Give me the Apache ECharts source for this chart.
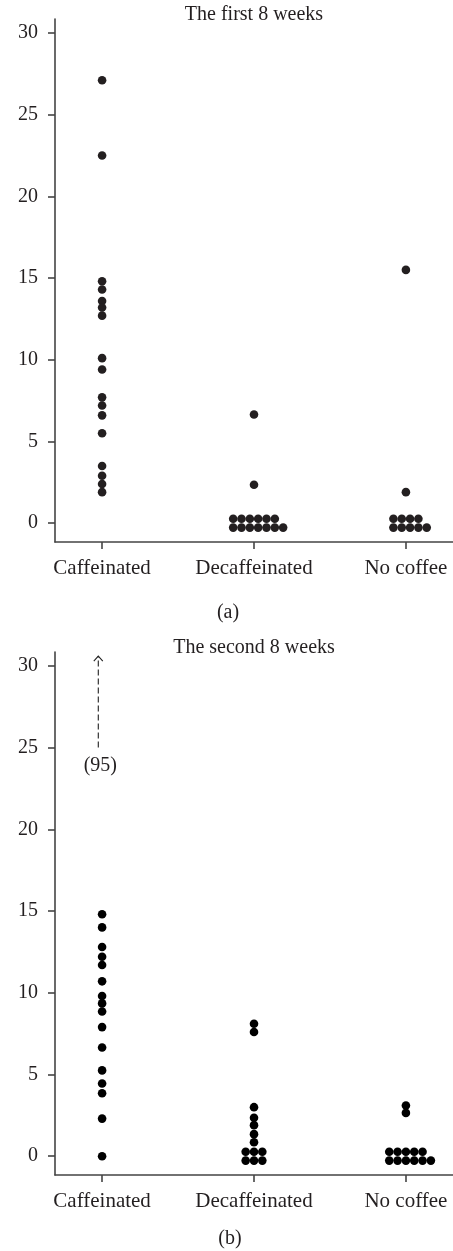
<!DOCTYPE html>
<html>
<head>
<meta charset="utf-8">
<script src="https://cdn.jsdelivr.net/npm/echarts@6/dist/echarts.min.js"></script>
<style>
  html, body { margin: 0; padding: 0; background: #fff; }
  #chart { width: 453px; height: 1251px; }
</style>
</head>
<body>
<div id="chart"></div>
<script>
// ---- data ----
const categories = ['Caffeinated', 'Decaffeinated', 'No coffee'];
const yTicks = [0, 5, 10, 15, 20, 25, 30];
const panelTitles = ['The first 8 weeks', 'The second 8 weeks'];
const captions = ['(a)', '(b)'];

const caffeinatedA = [27.1, 22.5, 14.8, 14.3, 13.6, 13.2, 12.7, 10.1, 9.4, 7.7, 7.2, 6.6, 5.5, 3.5, 2.9, 2.4, 1.9];
const decaffeinatedA = [6.65, 2.35, 0, 0, 0, 0, 0, 0, 0, 0, 0, 0, 0, 0, 0];
const noCoffeeA = [15.5, 1.9, 0, 0, 0, 0, 0, 0, 0, 0, 0];

const caffeinatedB = [95, 14.8, 14.0, 12.8, 12.2, 11.7, 10.7, 9.8, 9.35, 8.85, 7.9, 6.65, 5.25, 4.45, 3.85, 2.3, 0];
const decaffeinatedB = [8.1, 7.6, 3.0, 2.35, 1.9, 1.35, 0.85, 0, 0, 0, 0, 0, 0];
const noCoffeeB = [3.1, 2.65, 0, 0, 0, 0, 0, 0, 0, 0, 0, 0, 0];

// ---- layout constants ----
const Y_MIN = -1.15, Y_MAX = 30.85;
const X_MIN = -0.31, X_MAX = 2.31;
const STEP_X = 0.0548;   // horizontal spacing of tied dots (category units)
const ROW_GAP = 0.27;    // half gap between the two rows of tied zeros
const ARROW_FROM = 25.0, ARROW_TO = 30.6, ARROW_SHIFT = -0.025;
const TEXT = '#231f20';
const FONT = 'Liberation Serif';

// dot-plot layout: tied zeros are spread in two rows
function layout(groups) {
  const pts = [];
  groups.forEach((vals, gi) => {
    const zeros = vals.filter(v => v === 0).length;
    const top = Math.floor(zeros / 2);
    let zi = 0;
    vals.forEach(v => {
      if (v > Y_MAX) return;
      if (v === 0 && zeros > 1) {
        const row = zi < top ? 0 : 1;
        const col = row === 0 ? zi : zi - top;
        pts.push([gi + (col - (top - 1) / 2) * STEP_X, row === 0 ? ROW_GAP : -ROW_GAP]);
        zi++;
      } else {
        pts.push([gi, v]);
      }
    });
  });
  return pts;
}

function outliers(groups) {
  const out = [];
  groups.forEach((vals, gi) => vals.forEach(v => { if (v > Y_MAX) out.push([gi, v]); }));
  return out;
}

const panels = [
  [caffeinatedA, decaffeinatedA, noCoffeeA],
  [caffeinatedB, decaffeinatedB, noCoffeeB]
];
const dotColors = ['#231f20', '#000000'];

const grids = [
  { left: 55, right: 0, top: 19, bottom: 1251 - 542 },
  { left: 55, right: 0, top: 652, bottom: 1251 - 1175 }
];

const axisLineStyle = { color: '#444', width: 1.6 };
const titleStyle = { fontFamily: FONT, fontSize: 20, fontWeight: 'normal', color: TEXT };

function renderOutlier(params, api) {
  const gi = api.value(0);
  const v = api.value(1);
  const p0 = api.coord([gi + ARROW_SHIFT, ARROW_FROM]);
  const p1 = api.coord([gi + ARROW_SHIFT, ARROW_TO]);
  return {
    type: 'group',
    children: [
      { type: 'line', shape: { x1: p0[0], y1: p0[1], x2: p1[0], y2: p1[1] },
        style: { stroke: '#222', lineWidth: 1.1, lineDash: [6, 3] } },
      { type: 'polyline', shape: { points: [[p1[0] - 4.5, p1[1] + 5], [p1[0], p1[1]], [p1[0] + 4.5, p1[1] + 5]] },
        style: { stroke: '#222', lineWidth: 1.1, fill: null } },
      { type: 'text', x: p0[0] + 2, y: p0[1] + 18,
        style: { text: '(' + v + ')', fontFamily: FONT, fontSize: 20, fill: TEXT, align: 'center', verticalAlign: 'middle' } }
    ]
  };
}

const series = [];
panels.forEach((groups, i) => {
  series.push({
    type: 'scatter', xAxisIndex: i, yAxisIndex: i,
    symbol: 'circle', symbolSize: 8.6,
    itemStyle: { color: dotColors[i], opacity: 1 },
    data: layout(groups),
    silent: true
  });
  const out = outliers(groups);
  if (out.length) {
    series.push({
      type: 'custom', xAxisIndex: i, yAxisIndex: i,
      renderItem: renderOutlier, data: out, silent: true, clip: false
    });
  }
});

const option = {
  animation: false,
  backgroundColor: '#fff',
  title: [
    { text: panelTitles[0], left: 254, top: 5, textAlign: 'center', padding: 0, textStyle: titleStyle },
    { text: panelTitles[1], left: 254, top: 638, textAlign: 'center', padding: 0, textStyle: titleStyle },
    { text: captions[0], left: 228, top: 603, textAlign: 'center', padding: 0, textStyle: titleStyle },
    { text: captions[1], left: 230, top: 1229, textAlign: 'center', padding: 0, textStyle: titleStyle }
  ],
  grid: grids,
  xAxis: [0, 1].map(i => ({
    gridIndex: i, type: 'value', min: X_MIN, max: X_MAX,
    splitLine: { show: false },
    axisLine: { onZero: false, lineStyle: axisLineStyle },
    axisTick: { customValues: [0, 1, 2], length: 7, lineStyle: axisLineStyle },
    axisLabel: {
      customValues: [0, 1, 2], margin: 16,
      formatter: v => categories[Math.round(v)],
      fontFamily: FONT, fontSize: 21, color: TEXT
    }
  })),
  yAxis: [0, 1].map(i => ({
    gridIndex: i, type: 'value', min: Y_MIN, max: Y_MAX,
    splitLine: { show: false },
    axisLine: { onZero: false, lineStyle: axisLineStyle },
    axisTick: { customValues: yTicks, length: 7, lineStyle: axisLineStyle },
    axisLabel: {
      customValues: yTicks, margin: 17,
      fontFamily: FONT, fontSize: 20, color: TEXT
    }
  })),
  series: series
};

const chart = echarts.init(document.getElementById('chart'), null, { renderer: 'canvas' });
chart.setOption(option);
</script>
</body>
</html>
